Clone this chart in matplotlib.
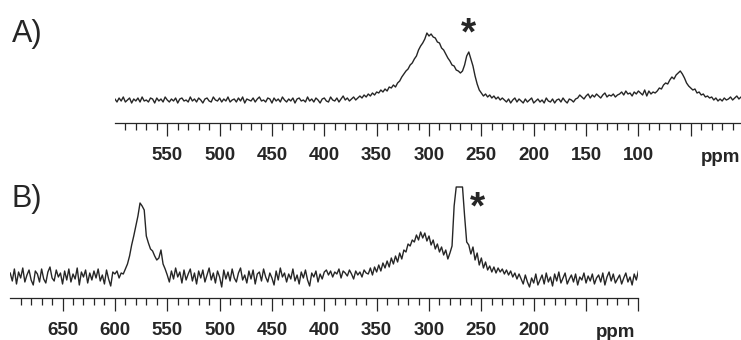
import numpy as np
import matplotlib
matplotlib.use("Agg")
import matplotlib.pyplot as plt
from matplotlib.ticker import FixedLocator, FixedFormatter

plt.rcParams['font.family'] = ['Liberation Sans', 'DejaVu Sans']

# spectrum A: 600 -> 0 ppm, 2 ppm steps (intensity in arbitrary units)
a_start, a_step = 600, 2
spec_a = (
    [1, -2, 2, -1, 3, -2, 0, 2, -3, 1,
     -1, 2, -2, 3, -1, 0, -2, 2, 1, -3,
     2, -1, 1, -2, 3, 0, -2, 1, -1, 2,
     -3, 1, 2, -1, 0, -2, 3, -1, 1, -2,
     2, 0, -3, 1, 2, -1, -2, 3, 0, -1,
     2, -2, 1, -1, 3, -2, 0, 1, -2, 2,
     -1, 3, -3, 1, 0, -1, 2, -2, 1, 3,
     -1, 0, -2, 2, 1, -3, 2, -1, 1, -2,
     3, 0, -2, 1, -1, 2, -3, 1, 2, -1,
     0, -2, 3, -1, 1, -2, 2, 0, -3, 1,
     2, -1, -2, 3, 0, -1, 2, -2, 1, 4]
    + [0, 2, -1, 1, 3, 0, 2, 4, 2, 5,
       3, 6, 4, 7, 5, 8, 7, 10, 8, 11,
       9, 13, 12, 15, 13, 17, 19, 23, 26, 29,
       31, 35, 37, 41, 44, 50, 54, 57, 61, 67,
       64, 66, 63, 62, 58, 57, 52, 50, 46, 42,
       39, 35, 34, 30, 29, 27, 29, 35, 44, 48,
       41, 34, 24, 16, 10, 7, 4, 6, 3, 5,
       2, 4, 1, 3, 0, 2]
    + [0, -2, 1, -3, 0, 2, -2, 1, -1, -3,
       1, -2, 0, 2, -3, -1, 1, -2, 0, -3,
       2, -1, -2, 1, -3, 0, 1, -2, 2, -1,
       -3, 1, 0, -2, 1]
    + [2, 5, 3, 1, 4, 6, 2, 5, 3, 6, 4, 2, 5, 7, 3, 5, 4, 6, 3, 5]
    + [6, 8, 5, 9, 6, 7, 4, 8, 6, 9, 7, 5, 10, 4, 9, 6, 8, 7]
    + [9, 12, 11, 15, 17, 16, 20, 23, 21, 25,
       27, 29, 26, 22, 17, 14, 12, 10, 11, 7,
       8, 5, 6, 3, 4, 2, 3, 0, 2, -1,
       1, -1, 2, 0, 1, 3, 0, 2, 4, 1,
       3, 2]
)

# spectrum B: 700 -> 100 ppm, 2 ppm steps
b_start, b_step = 700, 2
spec_b = (
    [3, -5, 7, -8, 4, -2, 8, -6, 1, 6,
     -4, -9, 5, 2, -6, 7, -3, -7, 4, 9,
     -2, -5, 6, -1, 3, -8, 5, -4, 7, -6,
     2, -3, 8, -9, 4, -1, 6, -7, 3, -4,
     5, -2, 7, -5, 1, -8, 6, -3, -10, 4,
     2, 5]
    + [-2, 3, 2, 7, 12, 20, 31, 40, 50, 60,
       73, 70, 66, 40, 33, 27, 25, 20, 16, 18,
       26, 12, 7, 1]
    + [-6, 5, -3, 8, -1, 4, -7, 6, -4, 2,
       7, -5, 3, -8, 5, -2, 6, -6, 1, 8,
       -4, 3, -7, 5, -1, -11, 6, -3, 4, -5,
       7, -2, -6, 3, 8, -4, 1, -7, 5, -3,
       6, -8, 2, 4, -5, 7, -1, -6, 3, -2,
       -9, 5, -4, 8, -1, 3, -6, 2, -3, 7,
       -5, 1, -8, 4, -2, 6, -4, -10, 3, -1,
       5, -6, 2, -3, 4]
    + [6, 1, 5, -1, 4, 2, 7, -2, 5, 3, 0, 6, 2, -3, 5, 1, 4, -1, 6, 3]
    + [2, 8, 1, 9, 4, 11, 5, 13, 8, 15,
       9, 18, 12, 20, 14, 23, 17, 26, 24, 32,
       30, 36, 34, 41, 36, 44, 38, 43, 35, 40,
       31, 36, 27, 32, 24, 29, 21, 26, 17, 23,
       30]
    + [70, 89, 89, 89, 89, 60, 34]
    + [31, 22, 29, 16, 23, 11, 18, 8, 14, 6,
       10, 4, 9, 3, 8, 4, 7, 2, 6, 1,
       5, -1, 3, -3, 2]
    + [-3, -8, 1, -6, -11, -2, -7, 2, -9, -4,
       1, -8, 3, -6, -1, -10, 2, -5, 4, -7,
       -2, 3, -8, -3, 1, -6, 2, -9, -1, -4,
       3, -7, 0, -5, 2, -8, -2, 1, -6, 3,
       -9, -1, 4, -5, 2, -7, -3, 1, -8, -2,
       3, -6, -1, -9, 2, -4, 5]
)

a_major = [550, 500, 450, 400, 350, 300, 250, 200, 150, 100, 50]
a_labels = ['550', '500', '450', '400', '350', '300', '250', '200', '150', '100', '']
b_major = [650, 600, 550, 500, 450, 400, 350, 300, 250, 200, 150, 100]
b_labels = ['650', '600', '550', '500', '450', '400', '350', '300', '250', '200', '', '']

W, H = 741, 340
ink = '#262626'
fig = plt.figure(figsize=(W / 100, H / 100), dpi=100)


def panel(rect, start, step, values, xlim, ylim, majors, labels, minors, ppm_x):
    ax = fig.add_axes(rect)
    ppm = start - step * np.arange(len(values))
    ax.plot(ppm, values, color=ink, lw=1.0)
    ax.set_xlim(*xlim)
    ax.set_ylim(*ylim)
    for s in ['left', 'right', 'top']:
        ax.spines[s].set_visible(False)
    ax.spines['bottom'].set_color(ink)
    ax.spines['bottom'].set_linewidth(0.9)
    ax.set_yticks([])
    ax.xaxis.set_major_locator(FixedLocator(majors))
    ax.xaxis.set_major_formatter(FixedFormatter(labels))
    ax.xaxis.set_minor_locator(FixedLocator(minors))
    ax.tick_params(axis='x', which='major', direction='out', length=9.4, width=0.9,
                   color=ink, pad=8, labelsize=13.5, labelcolor=ink)
    ax.tick_params(axis='x', which='minor', direction='out', length=5, width=0.9, color=ink)
    for t in ax.get_xticklabels():
        t.set_fontweight('bold')
    ax.text(ppm_x, -0.317, 'ppm', transform=ax.get_xaxis_transform(), ha='center',
            va='baseline', fontsize=13.5, fontweight='bold', color=ink)
    ax.patch.set_visible(False)
    return ax


minors_a = [v for v in range(590, 0, -10) if v % 50]
minors_b = [v for v in range(690, 100, -10) if v % 50]

axA = panel([114.9 / W, (H - 123) / H, 628.2 / W, 123 / H], a_start, a_step, spec_a,
            (600, 0), (-23, 100), a_major, a_labels, minors_a, 22)
axB = panel([10.2 / W, (H - 298) / H, 628.2 / W, 123 / H], b_start, b_step, spec_b,
            (700, 100), (-22, 101), b_major, b_labels, minors_b, 122)

fig.text(12 / W, 1 - 41.7 / H, 'A)', fontsize=22, color=ink, va='baseline')
fig.text(12 / W, 1 - 207 / H, 'B)', fontsize=22, color=ink, va='baseline')

axA.text(262, 0.64, '*', transform=axA.get_xaxis_transform(), ha='center',
         va='baseline', fontsize=28, fontweight='bold', color=ink)
axB.text(254, 0.645, '*', transform=axB.get_xaxis_transform(), ha='center',
         va='baseline', fontsize=28, fontweight='bold', color=ink)

fig.savefig('out.png', dpi=100)
